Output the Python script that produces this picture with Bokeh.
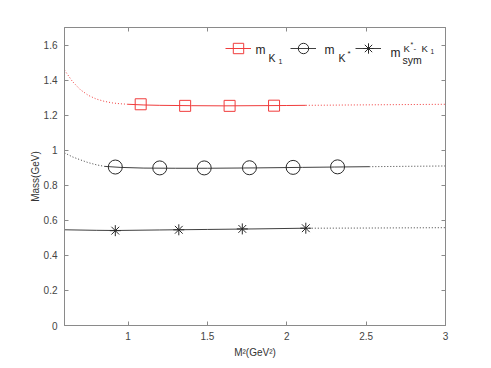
from bokeh.plotting import figure
from bokeh.models import (Range1d, LinearAxis, FixedTicker, CustomJSTickFormatter,
                          Legend, LegendItem, Label)
from bokeh.embed import file_html
from bokeh.resources import INLINE

# ---------------- data ----------------
# m_K1
k1_pts_x = [1.08, 1.36, 1.64, 1.92]
k1_pts_y = [1.262, 1.253, 1.253, 1.254]
k1_low_x = [0.60, 0.65, 0.70, 0.75, 0.80, 0.85, 0.90, 0.95, 1.00]
k1_low_y = [1.457, 1.392, 1.345, 1.313, 1.292, 1.279, 1.270, 1.265, 1.262]
k1_mid_x = [1.00, 1.10, 1.20, 1.40, 1.60, 1.80, 2.00, 2.12]
k1_mid_y = [1.262, 1.258, 1.256, 1.254, 1.253, 1.254, 1.255, 1.256]
k1_hi_x = [2.12, 2.40, 2.70, 3.00]
k1_hi_y = [1.256, 1.258, 1.260, 1.262]

# m_K*
ks_pts_x = [0.92, 1.20, 1.48, 1.765, 2.04, 2.32]
ks_pts_y = [0.904, 0.899, 0.899, 0.900, 0.902, 0.905]
ks_low_x = [0.60, 0.65, 0.70, 0.75, 0.80, 0.85]
ks_low_y = [0.985, 0.962, 0.945, 0.929, 0.917, 0.908]
ks_mid_x = [0.85, 0.95, 1.10, 1.30, 1.50, 1.80, 2.10, 2.30, 2.52]
ks_mid_y = [0.908, 0.902, 0.898, 0.897, 0.897, 0.899, 0.902, 0.904, 0.906]
ks_hi_x = [2.52, 2.75, 3.00]
ks_hi_y = [0.906, 0.908, 0.910]

# m_sym
sy_pts_x = [0.92, 1.32, 1.72, 2.12]
sy_pts_y = [0.541, 0.546, 0.551, 0.555]
sy_mid_x = [0.60, 0.80, 0.92, 1.20, 1.50, 1.80, 2.12]
sy_mid_y = [0.546, 0.543, 0.542, 0.545, 0.548, 0.551, 0.555]
sy_hi_x = [2.12, 2.50, 3.00]
sy_hi_y = [0.555, 0.556, 0.558]

x_ticks = [1, 1.5, 2, 2.5, 3]
y_ticks = [0, 0.2, 0.4, 0.6, 0.8, 1.0, 1.2, 1.4, 1.6]

# ---------------- figure ----------------
X0, X1, Y0, Y1 = 0.6, 3.0, 0.0, 1.7
FL, FT, FR, FB = 64, 27, 445, 327      # frame edges in page pixels
W, H = 483, 360
FONT = "Liberation Sans"
AX = "#8a8a8a"
RED = "#f03c3c"
BLK = "#2a2a2a"

p = figure(width=W, height=H, output_backend="svg", toolbar_location=None,
           x_range=Range1d(X0, X1), y_range=Range1d(Y0, Y1),
           x_axis_label="M²(GeV²)", y_axis_label="Mass(GeV)",
           min_border_left=FL, min_border_right=W - FR, min_border_top=FT,
           min_border_bottom=H - FB)
p.grid.visible = False
p.outline_line_color = AX
p.background_fill_color = "white"
p.border_fill_color = "white"

for ax in p.xaxis + p.yaxis:
    ax.axis_line_color = AX
    ax.major_tick_line_color = AX
    ax.minor_tick_line_color = None
    ax.major_tick_in = 4
    ax.major_tick_out = 0
    ax.major_label_text_font = FONT
    ax.major_label_text_font_size = "10px"
    ax.major_label_text_color = "#444444"
    ax.axis_label_text_font = FONT
    ax.axis_label_text_font_size = "10px"
    ax.axis_label_text_font_style = "normal"
    ax.axis_label_text_color = "#333333"
p.xaxis.ticker = FixedTicker(ticks=x_ticks)
p.yaxis.ticker = FixedTicker(ticks=y_ticks)
p.xaxis.major_label_standoff = 6
p.yaxis.major_label_standoff = 7
p.xaxis.axis_label_standoff = 4
p.yaxis.axis_label_standoff = 0

blank = CustomJSTickFormatter(code="return ''")
top = LinearAxis(ticker=FixedTicker(ticks=x_ticks), formatter=blank)
right = LinearAxis(ticker=FixedTicker(ticks=y_ticks), formatter=blank)
for ax in (top, right):
    ax.axis_line_color = AX
    ax.major_tick_line_color = AX
    ax.minor_tick_line_color = None
    ax.major_tick_in = 4
    ax.major_tick_out = 0
    ax.major_label_standoff = 0
    ax.major_label_text_font_size = "1px"
p.add_layout(top, "above")
p.add_layout(right, "right")

DOT = "1 2"
# red K1
p.line(k1_low_x, k1_low_y, line_color=RED, line_width=1, line_dash=DOT)
p.line(k1_hi_x, k1_hi_y, line_color=RED, line_width=1, line_dash=DOT)
r1l = p.line(k1_mid_x, k1_mid_y, line_color=RED, line_width=1)
r1m = p.scatter(k1_pts_x, k1_pts_y, marker="square", size=11, fill_color=None,
                line_color=RED, line_width=1)
# black K*
p.line(ks_low_x, ks_low_y, line_color=BLK, line_width=0.9, line_dash=DOT)
p.line(ks_hi_x, ks_hi_y, line_color=BLK, line_width=0.9, line_dash=DOT)
r2l = p.line(ks_mid_x, ks_mid_y, line_color=BLK, line_width=0.9)
r2m = p.scatter(ks_pts_x, ks_pts_y, marker="circle", size=14, fill_color=None,
                line_color=BLK, line_width=1)
# sym
p.line(sy_hi_x, sy_hi_y, line_color=BLK, line_width=0.9, line_dash=DOT)
r3l = p.line(sy_mid_x, sy_mid_y, line_color=BLK, line_width=0.9)
r3m = p.scatter(sy_pts_x, sy_pts_y, marker="asterisk", size=11,
                line_color=BLK, line_width=1)

legend = Legend(items=[LegendItem(label="", renderers=[r1l, r1m]),
                       LegendItem(label="", renderers=[r2l, r2m]),
                       LegendItem(label="", renderers=[r3l, r3m])],
                orientation="horizontal", location=(161, 262),
                glyph_width=26, glyph_height=30, label_width=34,
                label_height=14, label_standoff=5, spacing=0,
                padding=0, margin=0, border_line_color=None,
                background_fill_alpha=0)
p.add_layout(legend, "center")

# legend texts; positions given in page pixels, converted to data units
def lab(txt, ix, iy, size):
    x = X0 + (ix - FL) * (X1 - X0) / (FR - FL)
    y = Y0 + (FB - iy) * (Y1 - Y0) / (FB - FT)
    p.add_layout(Label(x=x, y=y, text=txt, text_font=FONT,
                       text_font_size=f"{size}px", text_color="#222222",
                       text_baseline="alphabetic", text_align="left"))

lab("m", 255, 50, 12); lab("K", 268, 58, 10.5); lab("1", 278, 61, 7)
lab("m", 324, 50, 12); lab("K", 338, 58, 10.5); lab("*", 347, 53, 8)
lab("m", 390, 53, 12); lab("sym", 402, 60, 10.5)
lab("K", 403, 48, 9.5); lab("*", 410, 44, 7); lab("-", 413, 48, 8)
lab("K", 421, 48, 9.5); lab("1", 430, 51, 6.5)

open("out.html", "w").write(file_html(p, INLINE))
